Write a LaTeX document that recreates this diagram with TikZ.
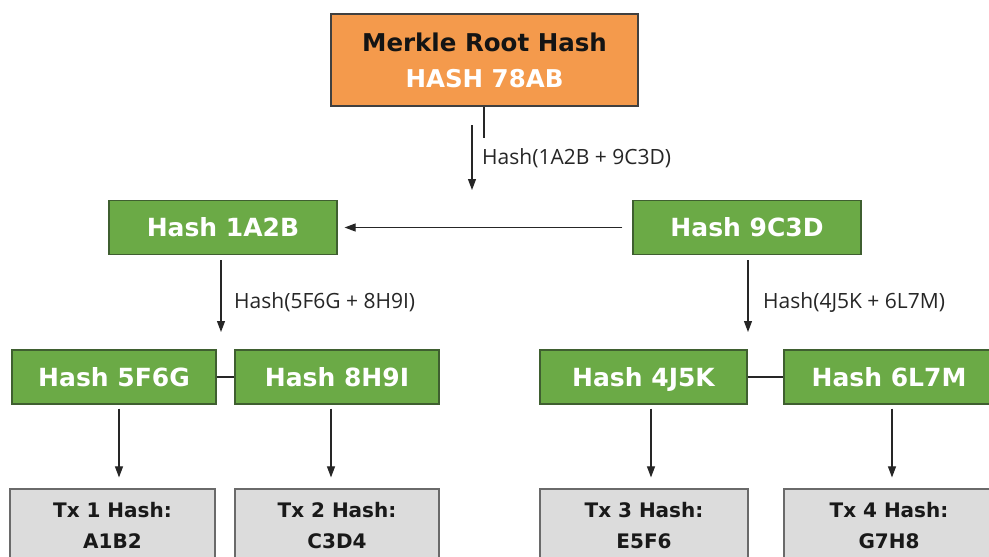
\documentclass[tikz,border=0pt]{standalone}
\usepackage{fontspec}
\setmainfont{DejaVu Sans}
\newfontfamily\lblfont{Open Sans}
\usetikzlibrary{arrows.meta}
\definecolor{rootfill}{HTML}{F49A4C}
\definecolor{greenfill}{HTML}{6BAA46}
\definecolor{greenline}{HTML}{3F5F30}
\definecolor{greyfill}{HTML}{DCDCDC}
\definecolor{greyline}{HTML}{6A6A6A}
\tikzset{
  rootbox/.style={draw=black!75, line width=1.2pt, fill=rootfill, minimum width=307pt, minimum height=92pt, inner sep=0pt, align=center, font=\bfseries\fontsize{24.5}{36}\selectfont, text=black!92},
  greenbox/.style={draw=greenline, line width=1.2pt, fill=greenfill, minimum height=54pt, inner sep=0pt, text height=18pt, text depth=0pt, text=white, font=\bfseries\fontsize{25}{30}\selectfont},
  txbox/.style={draw=greyline, line width=1.2pt, fill=greyfill, minimum height=73pt, inner sep=0pt, align=center, text=black!90, font=\bfseries\fontsize{20}{31}\selectfont},
  conn/.style={line width=1.1pt, draw=black!85},
  arr/.style={conn, -{Triangle[length=11pt, width=8pt]}},
  lbl/.style={anchor=west, inner sep=0pt, text=black!85, font=\lblfont\fontsize{21}{25}\selectfont},
}
\begin{document}
\begin{tikzpicture}[x=1pt, y=-1pt]
\clip (0,0) rectangle (989,557);
\useasboundingbox (0,0) rectangle (989,557);
\fill[white] (0,0) rectangle (989,557);

\node[rootbox] (root) at (484.5,60) {Merkle Root Hash\\\textcolor{white}{HASH 78AB}};

\node[greenbox, minimum width=228pt] (h1) at (223,227.5) {Hash 1A2B};
\node[greenbox, minimum width=228pt] (h2) at (747,227.5) {Hash 9C3D};

\node[greenbox, minimum width=204pt] (h11) at (114,377) {Hash 5F6G};
\node[greenbox, minimum width=204pt] (h12) at (337,377) {Hash 8H9I};
\node[greenbox, minimum width=207pt] (h21) at (643.5,377) {Hash 4J5K};
\node[greenbox, minimum width=210pt] (h22) at (889,377) {Hash 6L7M};

\node[txbox, minimum width=205pt] (t1) at (112.5,525.5) {Tx 1 Hash:\\A1B2};
\node[txbox, minimum width=204pt] (t2) at (337,525.5) {Tx 2 Hash:\\C3D4};
\node[txbox, minimum width=208pt] (t3) at (644,525.5) {Tx 3 Hash:\\E5F6};
\node[txbox, minimum width=210pt] (t4) at (889,525.5) {Tx 4 Hash:\\G7H8};

% root to level 2
\coordinate (rA) at (484,138);
\coordinate (rB) at (472,125);
\coordinate (rC) at (472,190);
\draw[conn] (root.south -| rA) -- (rA);
\draw[arr] (rB) -- (rC);
\node[lbl] (l0) at (482,158) {Hash(1A2B + 9C3D)};

% horizontal arrow
\draw[arr, shorten <=10pt, shorten >=7pt] (h2.west) -- (h1.east);

% level 2 to level 3
\coordinate (a1) at (221,260);
\coordinate (b1) at (221,332);
\draw[arr] (a1) -- (b1);
\node[lbl] (l1) at (234,302) {Hash(5F6G + 8H9I)};
\coordinate (a2) at (748,260);
\coordinate (b2) at (748,332);
\draw[arr] (a2) -- (b2);
\node[lbl] (l2) at (763,302) {Hash(4J5K + 6L7M)};

% level 3 links
\draw[conn] (h11.east) -- (h12.west);
\draw[conn] (h21.east) -- (h22.west);

% level 3 to tx
\foreach \s/\t/\x in {h11/t1/119, h12/t2/331, h21/t3/651, h22/t4/892}{
  \coordinate (x\s) at (\x,0);
  \draw[arr, shorten <=4pt, shorten >=11pt] (\s.south -| x\s) -- (\t.north -| x\s);
}
\end{tikzpicture}
\end{document}
